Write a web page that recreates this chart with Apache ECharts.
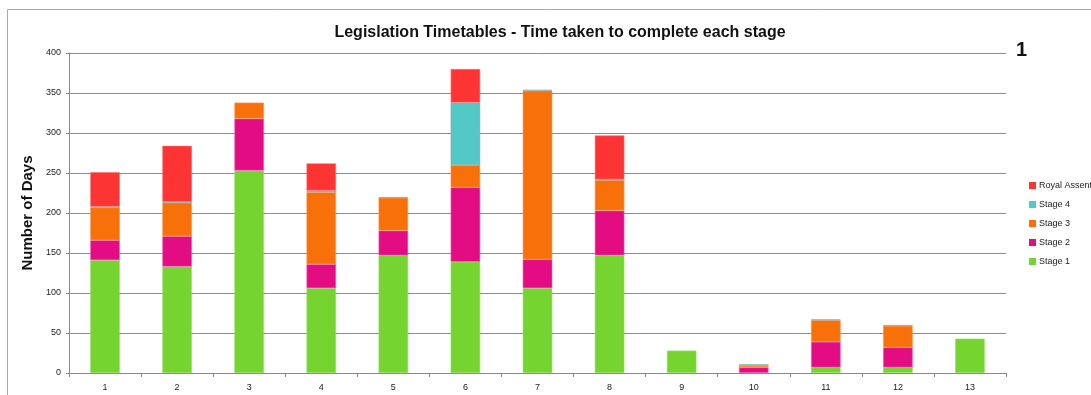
<!DOCTYPE html>
<html>
<head>
<meta charset="utf-8">
<script src="https://cdn.jsdelivr.net/npm/echarts@6/dist/echarts.min.js"></script>
<style>
  html, body { margin: 0; padding: 0; background: #fff; }
  #chart { width: 1091px; height: 395px; }
</style>
</head>
<body>
<div id="chart"></div>
<script>
// Bills 1–13, days spent in each legislative stage
const categories = ['1', '2', '3', '4', '5', '6', '7', '8', '9', '10', '11', '12', '13'];
const stage1      = [141, 133, 253, 106, 147, 139, 106, 147, 28, 0, 7, 7, 43];
const stage2      = [25, 38, 65, 30, 31, 93, 36, 56, 0, 7, 32, 25, 0];
const stage3      = [41, 42, 20, 90, 41, 28, 211, 38, 0, 2, 27, 27, 0];
const stage4      = [1, 1, 0, 2, 1, 78, 1, 1, 0, 2, 1, 1, 0];
const royalAssent = [43, 70, 0, 34, 0, 42, 0, 55, 0, 0, 0, 0, 0];
const yTicks = [0, 50, 100, 150, 200, 250, 300, 350, 400];

const colors = {
  'Stage 1': '#75d42f',
  'Stage 2': '#e40c82',
  'Stage 3': '#f8700a',
  'Stage 4': '#52c9c6',
  'Royal Assent': '#fc3434'
};
// slightly lighter outline around each segment
const edges = {
  'Stage 1': '#9be36a',
  'Stage 2': '#ef62ae',
  'Stage 3': '#fb9a55',
  'Stage 4': '#8fa9a8',
  'Royal Assent': '#fd7474'
};

const seriesData = [
  ['Stage 1', stage1],
  ['Stage 2', stage2],
  ['Stage 3', stage3],
  ['Stage 4', stage4],
  ['Royal Assent', royalAssent]
];

const font = '"Liberation Sans", "DejaVu Sans", sans-serif';
const chart = echarts.init(document.getElementById('chart'), null, { renderer: 'canvas' });

chart.setOption({
  animation: false,
  backgroundColor: '#fff',
  title: {
    text: 'Legislation Timetables - Time taken to complete each stage',
    left: 555,
    textAlign: 'center',
    top: 20,
    textStyle: { fontFamily: font, fontWeight: 'bold', fontSize: 16, color: '#111' }
  },
  graphic: [
    {
      type: 'rect',
      shape: { x: 7.5, y: 9.5, width: 1200, height: 500 },
      style: { fill: 'none', stroke: '#a8a8a8', lineWidth: 1 },
      silent: true
    },
    {
      type: 'text',
      left: 1016,
      top: 40,
      style: { text: '1', font: 'bold 20px ' + font, fill: '#111' }
    }
  ],
  legend: {
    orient: 'vertical',
    left: 1024,
    top: 176,
    itemWidth: 7,
    itemHeight: 7,
    itemGap: 10,
    icon: 'rect',
    itemStyle: { borderWidth: 0 },
    data: ['Royal Assent', 'Stage 4', 'Stage 3', 'Stage 2', 'Stage 1'],
    textStyle: { fontFamily: font, fontSize: 9, color: '#222', padding: [0, 0, 0, -2] }
  },
  grid: { left: 69, right: 85, top: 53, bottom: 22, containLabel: false },
  xAxis: {
    type: 'category',
    data: categories,
    axisLine: { lineStyle: { color: '#888', width: 1 } },
    axisTick: { show: true, length: 4, lineStyle: { color: '#888' } },
    axisLabel: { fontFamily: font, fontSize: 9, color: '#222', margin: 10 }
  },
  yAxis: {
    type: 'value',
    min: yTicks[0],
    max: yTicks[yTicks.length - 1],
    interval: 50,
    name: 'Number of Days',
    nameLocation: 'middle',
    nameGap: 33,
    nameRotate: 90,
    nameTextStyle: { fontFamily: font, fontWeight: 'bold', fontSize: 15, color: '#111' },
    axisLine: { show: true, lineStyle: { color: '#888', width: 1 } },
    axisTick: { show: true, length: 3, lineStyle: { color: '#888' } },
    axisLabel: { fontFamily: font, fontSize: 9, color: '#222', margin: 8 },
    splitLine: { lineStyle: { color: '#8c8c8c', width: 1 } }
  },
  series: seriesData.map(([name, values]) => ({
    name,
    type: 'bar',
    stack: 'days',
    barWidth: '41%',
    // empty stages are left out so no outline is drawn for them
    data: values.map(v => (v === 0 ? '-' : v)),
    itemStyle: {
      color: colors[name],
      borderColor: edges[name],
      borderWidth: 0.6
    }
  }))
});
</script>
</body>
</html>
